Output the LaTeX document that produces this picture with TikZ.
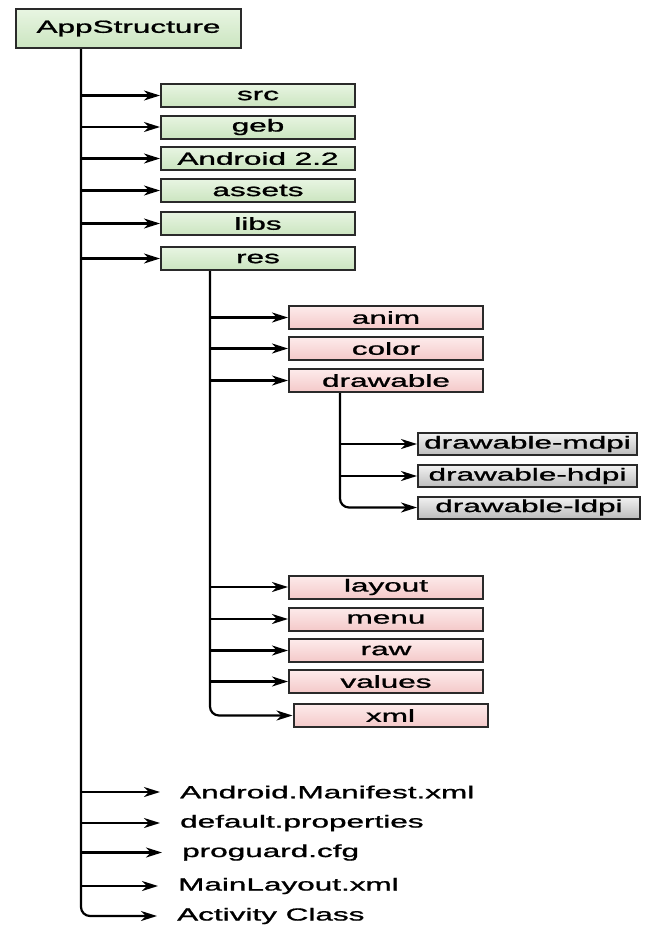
\documentclass[tikz,border=0pt]{standalone}
\usepackage{fontspec}
\setmainfont{Liberation Sans}[FakeBold=0.9]
\usepackage{graphicx}
\usetikzlibrary{arrows.meta,calc}
\newcommand\wt[1]{\scalebox{1.8}[1]{#1}}
\definecolor{gtop}{HTML}{E8F5E2}
\definecolor{gbot}{HTML}{CBE5C0}
\definecolor{ptop}{HTML}{FDEBEB}
\definecolor{pbot}{HTML}{F4C9C9}
\definecolor{ytop}{HTML}{F2F2F2}
\definecolor{ybot}{HTML}{BDBDBD}
\definecolor{edge}{HTML}{2A2A2A}
\tikzset{
  box/.style={draw=edge, line width=2pt, inner sep=0pt, font=\fontsize{17.5}{20}\selectfont},
  gbox/.style={box, top color=gtop, bottom color=gbot, minimum width=194pt, minimum height=23pt},
  pbox/.style={box, top color=ptop, bottom color=pbot, minimum width=194pt, minimum height=23pt},
  ybox/.style={box, top color=ytop, bottom color=ybot, minimum width=219pt, minimum height=22pt},
  plain/.style={anchor=west, inner xsep=20pt, inner ysep=0pt, font=\fontsize{17.5}{20}\selectfont},
  conn/.style={draw=black, line width=2.2pt},
  arr/.style={conn, -{Stealth[length=16pt,width=10pt,inset=5pt]}},
}
\begin{document}
\begin{tikzpicture}[x=1pt,y=-1pt]
\useasboundingbox[fill=white] (0,0) rectangle (652,926);

\node[box, top color=gtop, bottom color=gbot, minimum width=225pt, minimum height=39pt] (app) at (128.5,28.5) {\wt{AppStructure}};

\node[gbox] (src) at (258,95.5) {\wt{src}};
\node[gbox] (geb) at (258,127) {\wt{geb}};
\node[gbox] (and) at (258,158.5) {\wt{Android 2.2}};
\node[gbox] (assets) at (258,190.5) {\wt{assets}};
\node[gbox] (libs) at (258,223.5) {\wt{libs}};
\node[gbox] (res) at (258,258.5) {\wt{res}};

\node[pbox] (anim) at (386,317.5) {\wt{anim}};
\node[pbox] (color) at (386,348.5) {\wt{color}};
\node[pbox] (draw) at (386,380.5) {\wt{drawable}};

\node[ybox] (mdpi) at (527.5,444) {\wt{drawable-mdpi}};
\node[ybox] (hdpi) at (527.5,476) {\wt{drawable-hdpi}};
\node[ybox, minimum width=222pt] (ldpi) at (529,507.5) {\wt{drawable-ldpi}};

\node[pbox] (layout) at (386,587) {\wt{layout}};
\node[pbox] (menu) at (386,619) {\wt{menu}};
\node[pbox] (raw) at (386,650.5) {\wt{raw}};
\node[pbox] (values) at (386,681.5) {\wt{values}};
\node[pbox] (xml) at (390.5,715.5) {\wt{xml}};

\node[plain] (man) at (160,792) {\wt{Android.Manifest.xml}};
\node[plain] (def) at (160,823) {\wt{default.properties}};
\node[plain] (pro) at (162,852.5) {\wt{proguard.cfg}};
\node[plain] (main) at (158,886) {\wt{MainLayout.xml}};
\node[plain] (act) at (157,916) {\wt{Activity Class}};

% trunk of AppStructure
\coordinate (t0) at ([xshift=-47.5pt]app.south);
\draw[arr, rounded corners=9pt] (t0) |- (act.west);
\foreach \n in {src,geb,and,assets,libs,res,man,def,pro,main}
  \draw[arr] (t0 |- \n.west) -- (\n.west);

% trunk of res
\coordinate (r0) at ([xshift=-48pt]res.south);
\draw[arr, rounded corners=9pt] (r0) |- (xml.west);
\foreach \n in {anim,color,draw,layout,menu,raw,values}
  \draw[arr] (r0 |- \n.west) -- (\n.west);

% trunk of drawable
\coordinate (d0) at ([xshift=-46pt]draw.south);
\draw[arr, rounded corners=9pt] (d0) |- (ldpi.west);
\foreach \n in {mdpi,hdpi}
  \draw[arr] (d0 |- \n.west) -- (\n.west);
\end{tikzpicture}
\end{document}
